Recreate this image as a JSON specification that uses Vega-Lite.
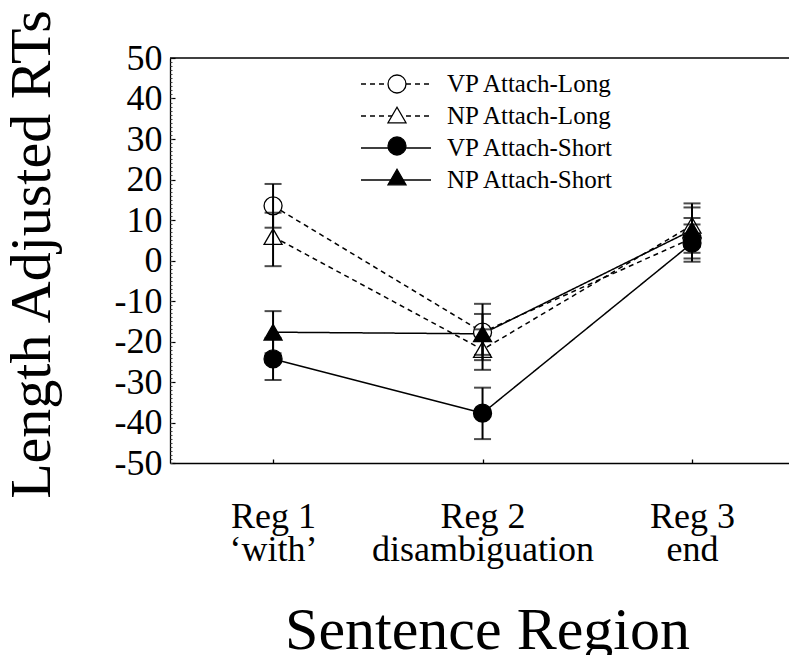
{
  "$schema": "https://vega.github.io/schema/vega-lite/v6.json",
  "autosize": {"type": "none"},
  "padding": {"left": 170, "top": 58, "right": 0, "bottom": 192},
  "width": 619,
  "height": 405,
  "background": "white",
  "config": {
    "view": {"stroke": null},
    "style": {"guide-label": {"font": "Liberation Serif", "fill": "black"}, "guide-title": {"font": "Liberation Serif", "fill": "black", "fontWeight": "normal"}},
    "axis": {"grid": false, "domainColor": "black", "domainWidth": 1.3, "tickColor": "black", "labelColor": "black", "titleColor": "black", "titleFontWeight": "normal", "labelOverlap": false},
    "legend": {"labelColor": "black"}
  },
  "data": {
    "values": [
      {"condition": "VP Attach-Long", "region": 1, "mean": 13.5, "lo": 8.1, "hi": 18.9},
      {"condition": "VP Attach-Long", "region": 2, "mean": -17.7, "lo": -23.3, "hi": -13.2},
      {"condition": "VP Attach-Long", "region": 3, "mean": 5.5, "lo": 0.5, "hi": 10.5},
      {"condition": "NP Attach-Long", "region": 1, "mean": 5.9, "lo": -1.4, "hi": 11.8},
      {"condition": "NP Attach-Long", "region": 2, "mean": -22.0, "lo": -27.0, "hi": -17.0},
      {"condition": "NP Attach-Long", "region": 3, "mean": 8.7, "lo": 3.3, "hi": 14.1},
      {"condition": "VP Attach-Short", "region": 1, "mean": -24.3, "lo": -29.5, "hi": -19.1},
      {"condition": "VP Attach-Short", "region": 2, "mean": -37.7, "lo": -44.1, "hi": -31.4},
      {"condition": "VP Attach-Short", "region": 3, "mean": 4.3, "lo": -0.3, "hi": 8.9},
      {"condition": "NP Attach-Short", "region": 1, "mean": -17.7, "lo": -22.9, "hi": -12.5},
      {"condition": "NP Attach-Short", "region": 2, "mean": -18.1, "lo": -24.6, "hi": -10.7},
      {"condition": "NP Attach-Short", "region": 3, "mean": 7.5, "lo": 1.9, "hi": 13.1}
    ]
  },
  "resolve": {"axis": {"y": "independent"}},
  "layer": [
    {
      "mark": {"type": "line", "color": "black", "strokeWidth": 1.5},
      "encoding": {
        "x": {
          "field": "region", "type": "quantitative",
          "scale": {"domain": [0.508, 3.463], "nice": false, "zero": false},
          "axis": {
            "title": "Sentence Region", "titleFont": "Liberation Serif", "titleFontSize": 60, "titleX": 317, "titleY": 185, "titleBaseline": "alphabetic", "titleAlign": "center",
            "values": [1, 2, 3], "tickSize": -4, "tickWidth": 1.3,
            "labelFont": "Liberation Serif", "labelFontSize": 36, "labelBaseline": "top", "labelPadding": 40, "labelLineHeight": 33, "labelFlush": false, "labelLimit": 500,
            "labelExpr": "datum.value == 1 ? ['Reg 1', '‘with’'] : datum.value == 2 ? ['Reg 2', 'disambiguation'] : ['Reg 3', 'end']"
          }
        },
        "y": {
          "field": "mean", "type": "quantitative",
          "scale": {"domain": [-50, 50], "nice": false, "zero": false},
          "axis": {
            "orient": "left", "title": "Length Adjusted RTs", "titleFont": "Liberation Serif", "titleFontSize": 58, "titleAngle": -90, "titleX": -121, "titleY": 196, "titleBaseline": "alphabetic", "titleAlign": "center",
            "values": [-50, -40, -30, -20, -10, 0, 10, 20, 30, 40, 50], "tickSize": -5, "tickWidth": 1.2,
            "labelFont": "Liberation Serif", "labelFontSize": 36, "labelPadding": 13,
            "labelExpr": "'' + datum.value"
          }
        },
        "detail": {"field": "condition"},
        "strokeDash": {
          "field": "condition", "type": "nominal",
          "sort": ["VP Attach-Long", "NP Attach-Long", "VP Attach-Short", "NP Attach-Short"],
          "scale": {"range": [[5, 4], [5, 4], [1, 0], [1, 0]]},
          "legend": {"orient": "none", "legendX": 190, "legendY": 14, "title": null, "padding": 0, "symbolType": "stroke", "symbolSize": 4900, "symbolStrokeColor": "black", "symbolStrokeWidth": 1.5, "clipHeight": 24, "rowPadding": 7, "labelOffset": 15, "labelFont": "Liberation Serif", "labelFontSize": 25, "labelLimit": 400}
        }
      }
    },
    {
      "mark": {"type": "point", "filled": true, "size": 324, "strokeWidth": 1.3, "opacity": 1},
      "encoding": {
        "x": {"field": "region", "type": "quantitative"},
        "y": {"field": "mean", "type": "quantitative", "axis": null},
        "shape": {
          "field": "condition", "type": "nominal",
          "scale": {"domain": ["VP Attach-Long", "NP Attach-Long", "VP Attach-Short", "NP Attach-Short"], "range": ["circle", "triangle-up", "circle", "triangle-up"]},
          "legend": {"orient": "none", "legendX": 217, "legendY": 14, "title": null, "padding": 0, "symbolSize": 324, "symbolStrokeWidth": 1.3, "symbolOpacity": 1, "clipHeight": 24, "rowPadding": 7, "labelOpacity": 0, "zindex": 1}
        },
        "fill": {
          "field": "condition", "type": "nominal",
          "scale": {"domain": ["VP Attach-Long", "NP Attach-Long", "VP Attach-Short", "NP Attach-Short"], "range": ["white", "white", "black", "black"]},
          "legend": {"orient": "none", "legendX": 217, "legendY": 14, "title": null, "padding": 0, "symbolSize": 324, "symbolStrokeWidth": 1.3, "symbolOpacity": 1, "clipHeight": 24, "rowPadding": 7, "labelOpacity": 0, "zindex": 1}
        },
        "stroke": {
          "field": "condition", "type": "nominal",
          "scale": {"domain": ["VP Attach-Long", "NP Attach-Long", "VP Attach-Short", "NP Attach-Short"], "range": ["black", "black", "black", "black"]},
          "legend": {"orient": "none", "legendX": 217, "legendY": 14, "title": null, "padding": 0, "symbolSize": 324, "symbolStrokeWidth": 1.3, "symbolOpacity": 1, "clipHeight": 24, "rowPadding": 7, "labelOpacity": 0, "zindex": 1}
        }
      }
    },
    {
      "mark": {"type": "rule", "color": "black", "strokeWidth": 2},
      "encoding": {
        "x": {"field": "region", "type": "quantitative"},
        "y": {"field": "lo", "type": "quantitative", "axis": null},
        "y2": {"field": "hi"}
      }
    },
    {
      "mark": {"type": "tick", "orient": "horizontal", "color": "black", "size": 17, "thickness": 2},
      "encoding": {
        "x": {"field": "region", "type": "quantitative"},
        "y": {"field": "lo", "type": "quantitative", "axis": null}
      }
    },
    {
      "mark": {"type": "tick", "orient": "horizontal", "color": "black", "size": 17, "thickness": 2},
      "encoding": {
        "x": {"field": "region", "type": "quantitative"},
        "y": {"field": "hi", "type": "quantitative", "axis": null}
      }
    },
    {
      "data": {"values": [{}]},
      "mark": {"type": "rule", "color": "black", "strokeWidth": 1.3},
      "encoding": {
        "y": {
          "datum": 50, "type": "quantitative",
          "axis": {"orient": "left", "title": null, "labels": false, "domain": false, "tickCount": 100, "tickSize": -2, "tickWidth": 1, "tickColor": "#444"}
        }
      }
    }
  ]
}
